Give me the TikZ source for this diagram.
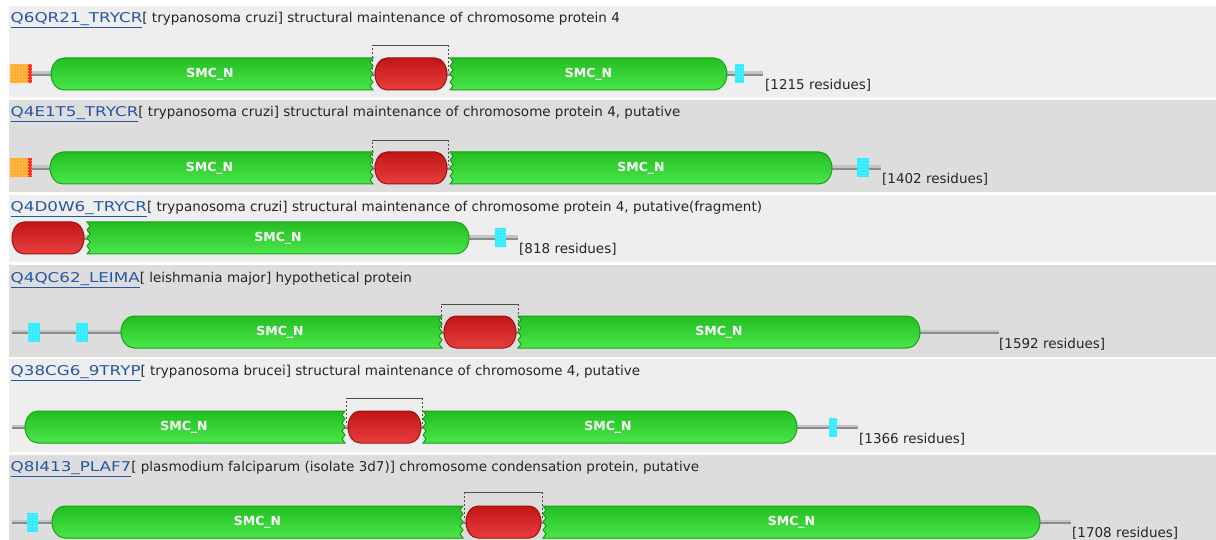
\documentclass[tikz,border=0pt]{standalone}
\usepackage{fontspec}
\setmainfont{DejaVu Sans}
\usetikzlibrary{patterns}
\definecolor{bandA}{RGB}{238,238,238}
\definecolor{bandB}{RGB}{221,221,221}
\definecolor{idblue}{RGB}{38,86,165}
\definecolor{gtop}{RGB}{34,190,34}
\definecolor{gbot}{RGB}{74,230,74}
\definecolor{gedge}{RGB}{24,160,24}
\definecolor{rtop}{RGB}{192,22,22}
\definecolor{rbot}{RGB}{232,62,62}
\definecolor{redge}{RGB}{160,16,16}
\definecolor{lineA}{RGB}{196,196,196}
\definecolor{lineB}{RGB}{140,140,140}
\definecolor{cyanbox}{RGB}{40,235,255}
\definecolor{orangebox}{RGB}{255,170,40}
\definecolor{redstrip}{RGB}{255,30,30}
\tikzset{
  greendom/.style={draw=gedge, line width=1pt, top color=gtop, bottom color=gbot},
  reddom/.style={draw=redge, line width=1pt, top color=rtop, bottom color=rbot},
  titletext/.style={anchor=base west, inner sep=0pt, font=\fontsize{13.5}{16}\selectfont, text=black!85},
  restext/.style={anchor=base west, inner sep=0pt, font=\fontsize{13.5}{16}\selectfont, text=black!85},
  smc/.style={inner sep=0pt, text=white, font=\bfseries\fontsize{12.5}{13}\selectfont},
  brkline/.style={draw=black!70, line width=0.8pt}
}
\newcommand{\idtxt}[1]{\textcolor{idblue}{\underline{\scalebox{1.24}[1]{#1}}}}
\newcommand{\GdomRJ}[3]{%
  \path[greendom] ({#1+13},{#3-16}) -- ({#2},{#3-16})
    \foreach \k in {1,...,8}{ -- ({#2-3*mod(\k,2)},{#3-16+4*\k}) }
    -- ({#1+13},{#3+16}) arc[start angle=270,end angle=90,x radius=13pt,y radius=16pt] -- cycle;}
\newcommand{\GdomJR}[3]{%
  \path[greendom] ({#1},{#3+16})
    \foreach \k in {1,...,8}{ -- ({#1+3*mod(\k,2)},{#3+16-4*\k}) }
    -- ({#2-13},{#3-16}) arc[start angle=90,end angle=-90,x radius=13pt,y radius=16pt] -- cycle;}
\newcommand{\RdomRR}[3]{%
  \path[reddom] ({#1+12},{#3-16}) -- ({#2-12},{#3-16})
    arc[start angle=90,end angle=-90,x radius=12pt,y radius=16pt]
    -- ({#1+12},{#3+16})
    arc[start angle=270,end angle=90,x radius=12pt,y radius=16pt] -- cycle;}
\newcommand{\backbone}[3]{%
  \fill[lineA] (#1,{#3-2.5}) rectangle (#2,{#3});
  \fill[lineB] (#1,{#3}) rectangle (#2,{#3+2});}
\newcommand{\cyanmark}[3]{%
  \fill[cyanbox] (#1,{#3-9.5}) rectangle (#2,{#3+9.5});
  \fill[pattern=crosshatch dots, pattern color=white!55!cyanbox] (#1,{#3-9.5}) rectangle (#2,{#3+9.5});}
\newcommand{\orangemark}[1]{%
  \fill[orangebox] (10,{#1-9.5}) rectangle (28,{#1+9.5});
  \fill[redstrip] (28,{#1-9.5}) rectangle (32,{#1+9.5});
  \fill[pattern=crosshatch dots, pattern color=white!50!orangebox] (10,{#1-9.5}) rectangle (32,{#1+9.5});}
\newcommand{\bracketmark}[4]{%
  \draw[brkline, dash pattern=on 2pt off 2pt] (#1,{#4}) -- (#1,#3);
  \draw[brkline] (#1,#3) -- (#2,#3);
  \draw[brkline, dash pattern=on 2pt off 2pt] (#2,#3) -- (#2,{#4});}
\begin{document}
\begin{tikzpicture}[x=1pt,y=-1pt]
\useasboundingbox (0,0) rectangle (1216,540);
\fill[white] (0,0) rectangle (1216,540);
\fill[bandA] (9,6) rectangle (1216,97);
\fill[bandB] (9,100) rectangle (1216,192);
\fill[bandA] (9,195) rectangle (1216,262);
\fill[bandB] (9,265) rectangle (1216,357);
\fill[bandA] (9,359) rectangle (1216,452);
\fill[bandB] (9,455) rectangle (1216,540);

% Row 1
\node[titletext] (t1) at (10.5,22.5) {\idtxt{Q6QR21\_TRYCR}[ trypanosoma cruzi] structural maintenance of chromosome protein 4};
\bracketmark{372}{448}{45}{74}
\backbone{32}{763}{74}
\orangemark{74}
\cyanmark{735}{744}{74}
\GdomRJ{51}{373}{74}
\GdomJR{450}{727}{74}
\RdomRR{375}{447}{74}
\node[smc] (s1a) at (210,74) {SMC\_N};
\node[smc] (s1b) at (588.5,74) {SMC\_N};
\node[restext] (r1) at (765,90) {{[}1215 residues]};

% Row 2
\node[titletext] (t2) at (10.5,116.5) {\idtxt{Q4E1T5\_TRYCR}[ trypanosoma cruzi] structural maintenance of chromosome protein 4, putative};
\bracketmark{372}{448}{140}{168}
\backbone{32}{881}{168}
\orangemark{168}
\cyanmark{857}{869}{168}
\GdomRJ{50}{373}{168}
\GdomJR{450}{832}{168}
\RdomRR{375}{447}{168}
\node[smc] (s2a) at (209.5,168) {SMC\_N};
\node[smc] (s2b) at (641,168) {SMC\_N};
\node[restext] (r2) at (882,184) {{[}1402 residues]};

% Row 3
\node[titletext] (t3) at (10.5,211.5) {\idtxt{Q4D0W6\_TRYCR}[ trypanosoma cruzi] structural maintenance of chromosome protein 4, putative(fragment)};
\backbone{12}{518}{238}
\cyanmark{495}{506}{238}
\GdomJR{87}{469}{238}
\RdomRR{12}{84}{238}
\node[smc] (s3a) at (278,238) {SMC\_N};
\node[restext] (r3) at (519,254) {{[}818 residues]};

% Row 4
\node[titletext] (t4) at (10.5,282.5) {\idtxt{Q4QC62\_LEIMA}[ leishmania major] hypothetical protein};
\bracketmark{441}{518}{304}{332}
\backbone{12}{999}{332}
\cyanmark{28}{40}{332}
\cyanmark{76}{88}{332}
\GdomRJ{121}{442}{332}
\GdomJR{518}{920}{332}
\RdomRR{444}{516}{332}
\node[smc] (s4a) at (280,332) {SMC\_N};
\node[smc] (s4b) at (719,332) {SMC\_N};
\node[restext] (r4) at (999,348) {{[}1592 residues]};

% Row 5
\node[titletext] (t5) at (10.5,375.5) {\idtxt{Q38CG6\_9TRYP}[ trypanosoma brucei] structural maintenance of chromosome 4, putative};
\bracketmark{346}{422}{398}{427}
\backbone{12}{858}{427}
\cyanmark{829}{837}{427}
\GdomRJ{25}{345}{427}
\GdomJR{423}{797}{427}
\RdomRR{348}{421}{427}
\node[smc] (s5a) at (184,427) {SMC\_N};
\node[smc] (s5b) at (608,427) {SMC\_N};
\node[restext] (r5) at (859,443) {{[}1366 residues]};

% Row 6
\node[titletext] (t6) at (10.5,471.5) {\idtxt{Q8I413\_PLAF7}[ plasmodium falciparum (isolate 3d7)] chromosome condensation protein, putative};
\bracketmark{464}{542}{492}{522}
\backbone{12}{1071}{522}
\cyanmark{27}{38}{522}
\GdomRJ{52}{463}{522}
\GdomJR{543}{1040}{522}
\RdomRR{466}{541}{522}
\node[smc] (s6a) at (257.5,522) {SMC\_N};
\node[smc] (s6b) at (791.5,522) {SMC\_N};
\node[restext] (r6) at (1072,537) {{[}1708 residues]};
\end{tikzpicture}
\end{document}
